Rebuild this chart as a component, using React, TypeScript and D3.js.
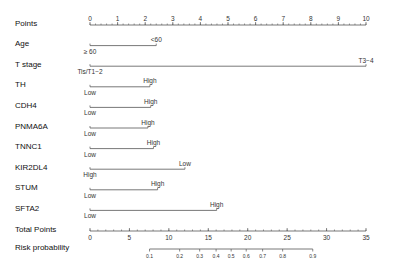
import React from "react";
import * as d3 from "d3";

// nomogram rows: name, points at the far end, label at start (below), label at end (above)
const varNames = ["Age", "T stage", "TH", "CDH4", "PNMA6A", "TNNC1", "KIR2DL4", "STUM", "SFTA2"];
const varPoints = [2.4, 10, 2.17, 2.2, 2.1, 2.3, 3.44, 2.45, 4.59];
const startLabels = ["\u2265 60", "Tis/T1\u22122", "Low", "Low", "Low", "Low", "High", "Low", "Low"];
const endLabels = ["<60", "T3\u22124", "High", "High", "High", "High", "Low", "High", "High"];

const pointTicks = d3.range(0, 11, 1);
const pointMinor = d3.range(0, 10.01, 0.2);
const totalTicks = d3.range(0, 36, 5);
const totalMinor = d3.range(0, 36, 1);
const riskTicks = [0.1, 0.2, 0.3, 0.4, 0.5, 0.6, 0.7, 0.8, 0.9];

// logistic link: total points at p=0.5 and points per logit unit
const riskCenter = 17.9;
const pointsPerLogit = 4.71;

const W = 405;
const H = 266;
const FONT = "Liberation Sans, Arial, sans-serif";

export default function App() {
  const x = d3.scaleLinear().domain([0, 10]).range([90, 366]);
  const xt = d3.scaleLinear().domain([0, 35]).range([90, 366]);
  const rows = ["Points", ...varNames, "Total Points"];
  const y = d3.scalePoint().domain(rows).range([25, 231]);
  const riskY = 249;
  const riskToTotal = (p: number) => riskCenter + pointsPerLogit * Math.log(p / (1 - p));
  const lineColor = "#555";
  const textColor = "#111";

  return (
    <svg width={W} height={H} style={{ position: "absolute", left: 0, top: 0, background: "#fff" }}
      fontFamily={FONT}>
      {/* row titles */}
      {[...rows, "Risk probability"].map((r) => (
        <text key={r} x={15} y={(r === "Risk probability" ? riskY : (y(r) as number)) + 0.5}
          fontSize={8} fill={textColor}>{r}</text>
      ))}

      {/* Points axis */}
      <g>
        <line x1={x(0)} x2={x(10)} y1={y("Points")} y2={y("Points")} stroke={lineColor} strokeWidth={0.8} />
        {pointMinor.map((v) => (
          <line key={v} x1={x(v)} x2={x(v)} y1={y("Points")!} y2={y("Points")! - 1.5}
            stroke={lineColor} strokeWidth={0.6} />
        ))}
        {pointTicks.map((v) => (
          <g key={v}>
            <line x1={x(v)} x2={x(v)} y1={y("Points")!} y2={y("Points")! - 3} stroke={lineColor} strokeWidth={0.7} />
            <text x={x(v)} y={y("Points")! - 4.5} fontSize={6.5} textAnchor="middle" fill="#333">{v}</text>
          </g>
        ))}
      </g>

      {/* variable rows */}
      {varNames.map((n, i) => {
        const yy = y(n) as number;
        const x1 = x(0);
        const x2 = x(varPoints[i]);
        return (
          <g key={n}>
            <line x1={x1} x2={x2} y1={yy} y2={yy} stroke={lineColor} strokeWidth={0.8} />
            <line x1={x1} x2={x1} y1={yy} y2={yy - 2} stroke={lineColor} strokeWidth={0.7} />
            <line x1={x2} x2={x2} y1={yy} y2={yy - 2} stroke={lineColor} strokeWidth={0.7} />
            <text x={x2} y={yy - 3.5} fontSize={6.5} textAnchor="middle" fill="#333">{endLabels[i]}</text>
            <text x={x1} y={yy + 8} fontSize={6.5} textAnchor="middle" fill="#333">{startLabels[i]}</text>
          </g>
        );
      })}

      {/* Total points axis */}
      <g>
        <line x1={xt(0)} x2={xt(35)} y1={y("Total Points")} y2={y("Total Points")} stroke={lineColor} strokeWidth={0.8} />
        {totalMinor.map((v) => (
          <line key={v} x1={xt(v)} x2={xt(v)} y1={y("Total Points")!} y2={y("Total Points")! - 1.5}
            stroke={lineColor} strokeWidth={0.6} />
        ))}
        {totalTicks.map((v) => (
          <g key={v}>
            <line x1={xt(v)} x2={xt(v)} y1={y("Total Points")!} y2={y("Total Points")! - 3}
              stroke={lineColor} strokeWidth={0.7} />
            <text x={xt(v)} y={y("Total Points")! + 9} fontSize={6.5} textAnchor="middle" fill="#333">{v}</text>
          </g>
        ))}
      </g>

      {/* Risk probability axis */}
      <g>
        <line x1={xt(riskToTotal(0.1))} x2={xt(riskToTotal(0.9))} y1={riskY} y2={riskY}
          stroke={lineColor} strokeWidth={0.8} />
        {riskTicks.map((p) => (
          <g key={p}>
            <line x1={xt(riskToTotal(p))} x2={xt(riskToTotal(p))} y1={riskY} y2={riskY + 2.5}
              stroke={lineColor} strokeWidth={0.7} />
            <text x={xt(riskToTotal(p))} y={riskY + 9} fontSize={5} textAnchor="middle" fill="#333">{p}</text>
          </g>
        ))}
      </g>
    </svg>
  );
}
